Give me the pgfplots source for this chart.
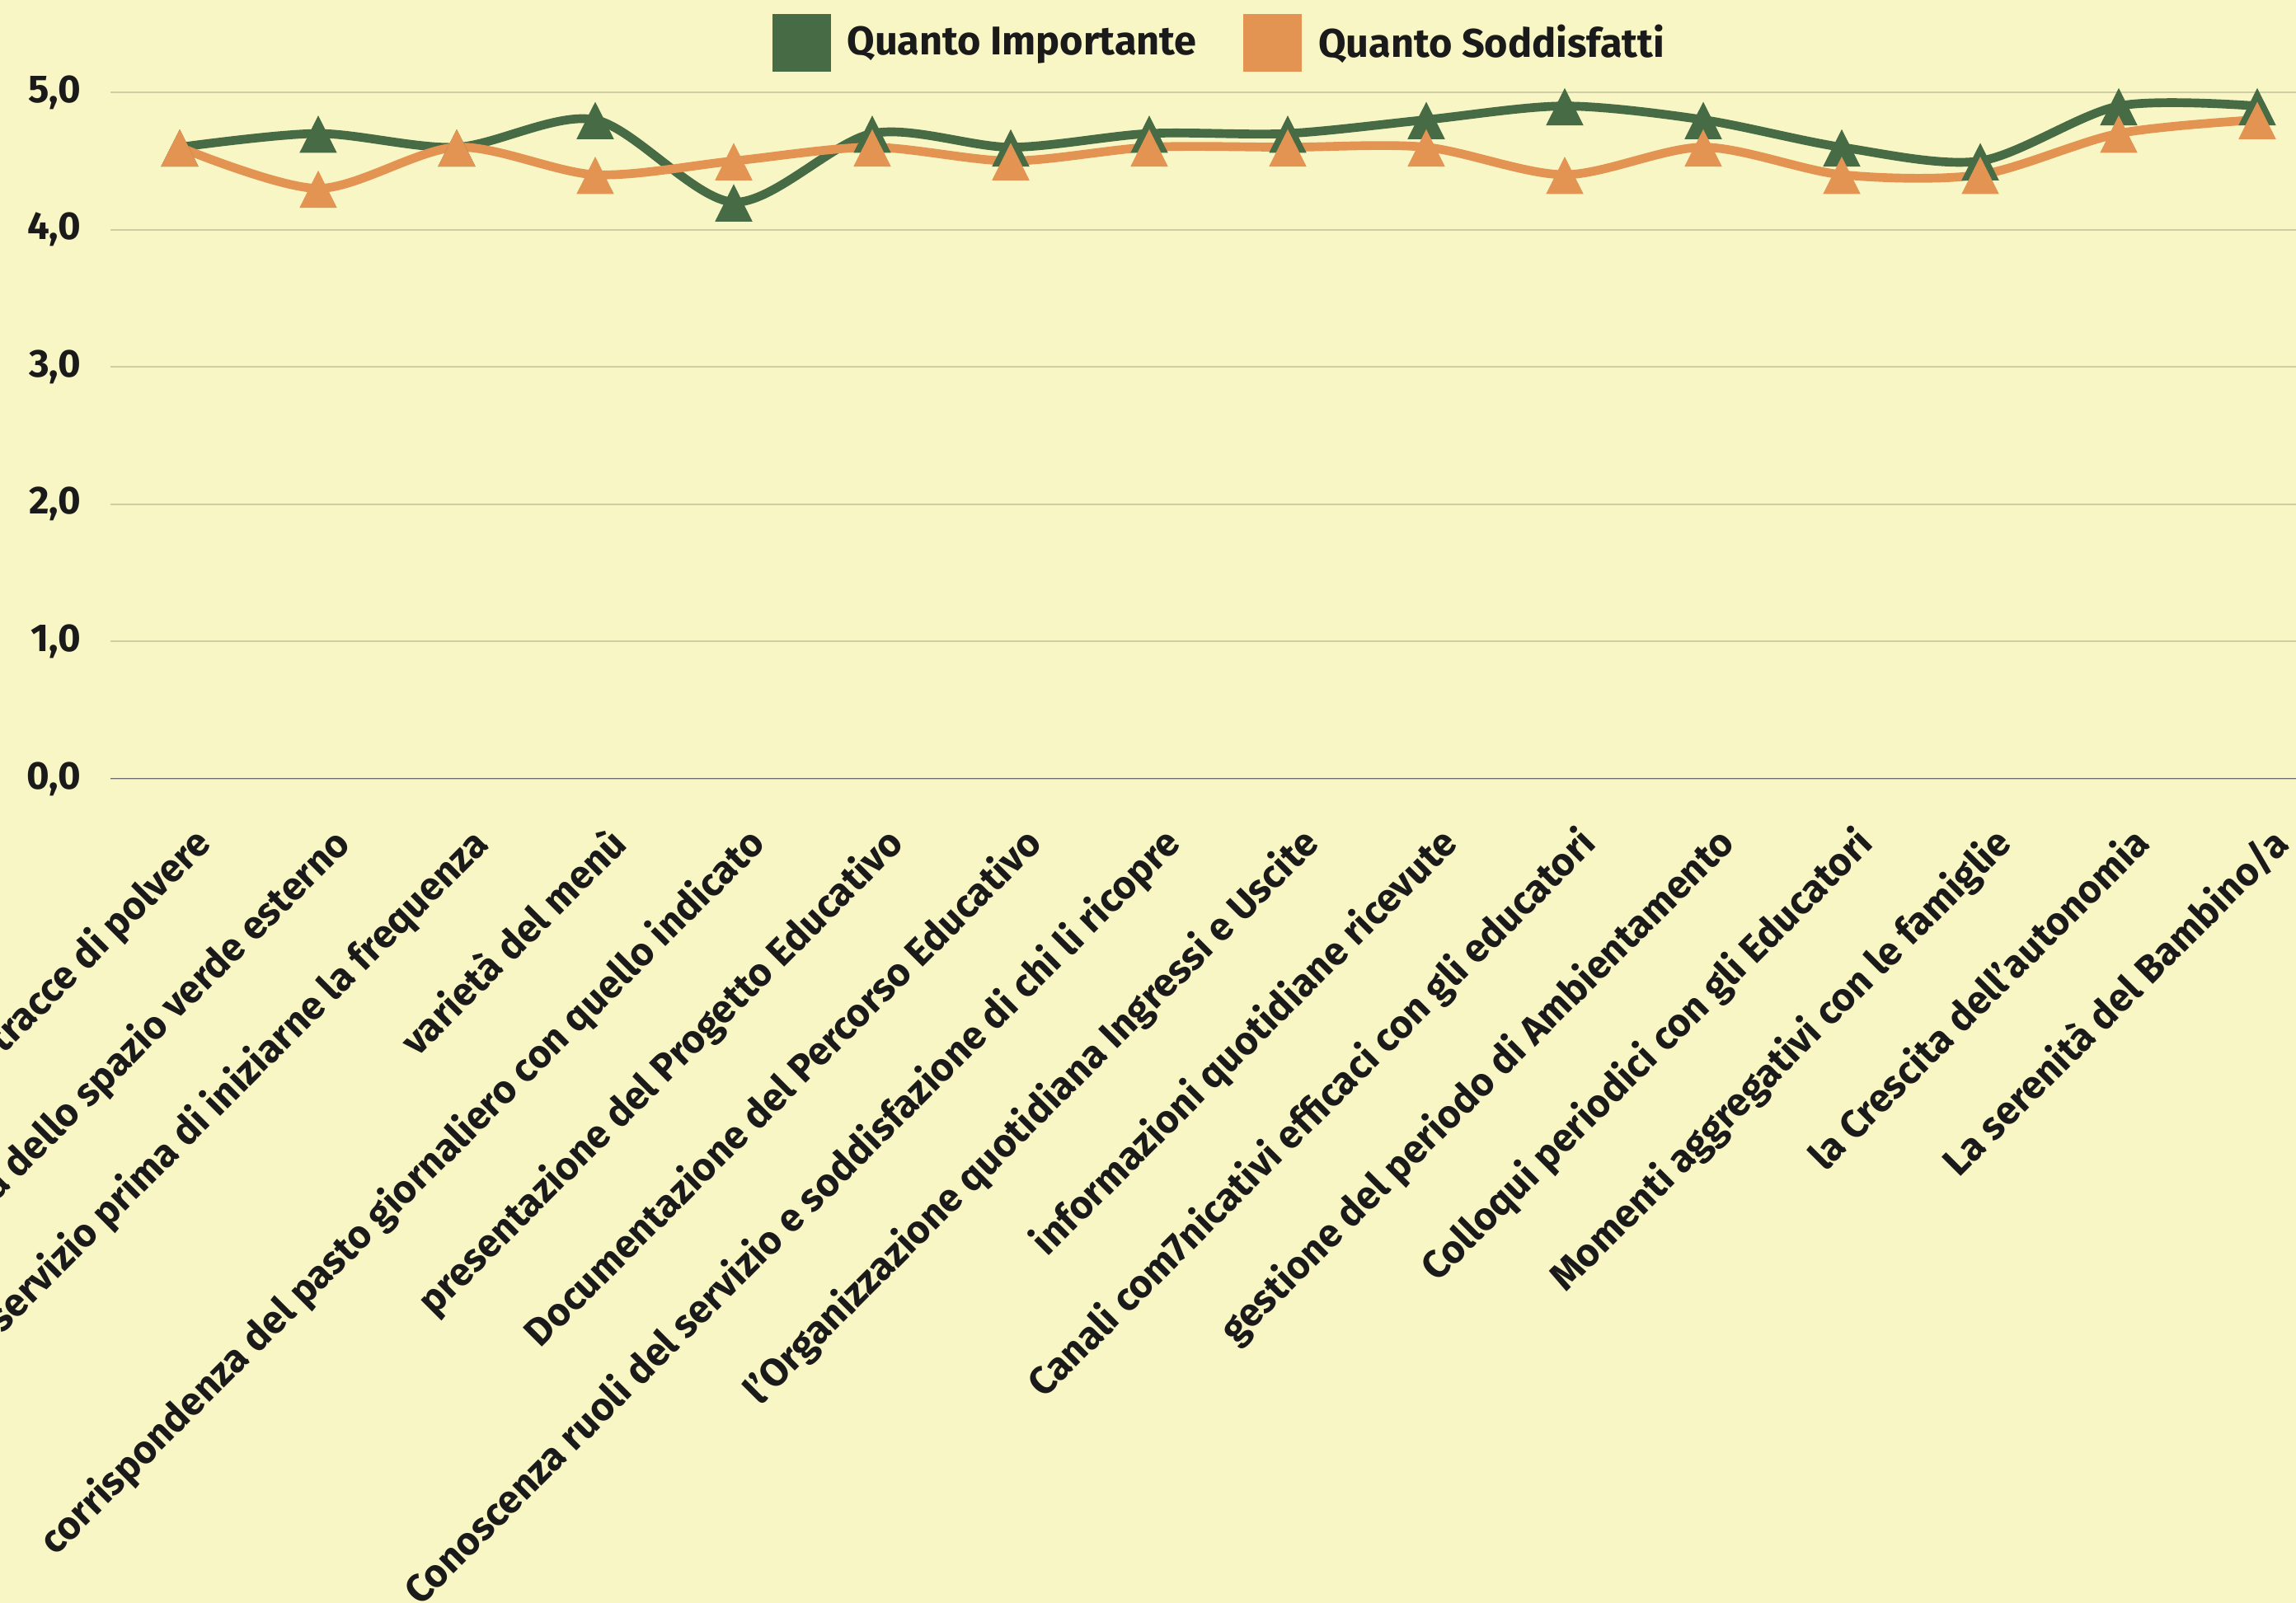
\documentclass[border=0pt]{standalone}
\usepackage{pgfplots}
\pgfplotsset{compat=1.18}
\usepackage{fontspec}
\setmainfont{Fira Sans}
\definecolor{bg}{HTML}{F9F6C5}
\definecolor{imp}{HTML}{476C45}
\definecolor{sod}{HTML}{E39452}
\definecolor{gridc}{HTML}{D0CCA3}
\definecolor{txt}{HTML}{1A1A1A}
\begin{document}
\begin{tikzpicture}
\useasboundingbox (0,0) rectangle (835.5pt,583.5pt);
\fill[bg] (0,0) rectangle (835.5pt,583.5pt);
\clip (0,0) rectangle (835.5pt,583.5pt);
\begin{axis}[
  at={(40.2pt,300pt)}, anchor=south west,
  scale only axis, width=806.4pt, height=249.9pt,
  xmin=-0.5, xmax=15.5, ymin=0, ymax=5,
  axis line style={draw=none},
  ymajorgrids, grid style={gridc, line width=0.6pt},
  major tick length=0pt,
  ytick={0,1,2,3,4,5},
  yticklabels={{0,0},{1,0},{2,0},{3,0},{4,0},{5,0}},
  xtick={0,...,15},
  xticklabels={
    Pulizia degli ambienti e assenza di tracce di polvere,
    Qualità e cura dello spazio verde esterno,
    Possibilità di visitare il servizio prima di iniziarne la frequenza,
    varietà del menù,
    corrispondenza del pasto giornaliero con quello indicato,
    presentazione del Progetto Educativo,
    Documentazione del Percorso Educativo,
    Conoscenza ruoli del servizio e soddisfazione di chi li ricopre,
    l'Organizzazione quotidiana Ingressi e Uscite,
    informazioni quotidiane ricevute,
    Canali com7nicativi efficaci con gli educatori,
    gestione del periodo di Ambientamento,
    Colloqui periodici con gli Educatori,
    Momenti aggregativi con le famiglie,
    la Crescita dell'autonomia,
    La serenità del Bambino/a},
  tick label style={font=\bfseries\fontsize{14.2}{16}\selectfont, text=txt},
  xticklabel style={rotate=45, anchor=north east, inner sep=0pt, xshift=-8.5pt, yshift=-14pt},
  yticklabel style={anchor=east, inner sep=0pt, xshift=-10.5pt},
  legend style={draw=none, fill=none, at={(0.5,1)}, anchor=center, yshift=18pt, xshift=0pt,
    font=\bfseries\fontsize{14.6}{17}\selectfont, text=txt,
    nodes={inner sep=0pt},
    /tikz/every odd column/.append style={column sep=6pt},
    /tikz/every even column/.append style={column sep=17pt}},
  legend columns=2,
  legend image code/.code={\fill (0pt,-9pt) rectangle (18pt,9pt);},
]
\draw[gray!85!black, line width=0.7pt] (axis cs:-0.5,0) -- (axis cs:15.5,0);
\addplot[imp, line width=3.2pt, smooth, mark=triangle*, mark size=7.6pt,
  mark options={solid, line width=0.3pt, yscale=1.15, yshift=-2.2pt}] coordinates {
  (0,4.6) (1,4.7) (2,4.6) (3,4.8) (4,4.2) (5,4.7) (6,4.6) (7,4.7)
  (8,4.7) (9,4.8) (10,4.9) (11,4.8) (12,4.6) (13,4.5) (14,4.9) (15,4.9)};
\addlegendentry{Quanto Importante}
\addplot[sod, line width=3.2pt, smooth, mark=triangle*, mark size=7.6pt,
  mark options={solid, line width=0.3pt, yscale=1.15, yshift=-2.2pt}] coordinates {
  (0,4.6) (1,4.3) (2,4.6) (3,4.4) (4,4.5) (5,4.6) (6,4.5) (7,4.6)
  (8,4.6) (9,4.6) (10,4.4) (11,4.6) (12,4.4) (13,4.4) (14,4.7) (15,4.8)};
\addlegendentry{Quanto Soddisfatti}
\end{axis}
\end{tikzpicture}
\end{document}
